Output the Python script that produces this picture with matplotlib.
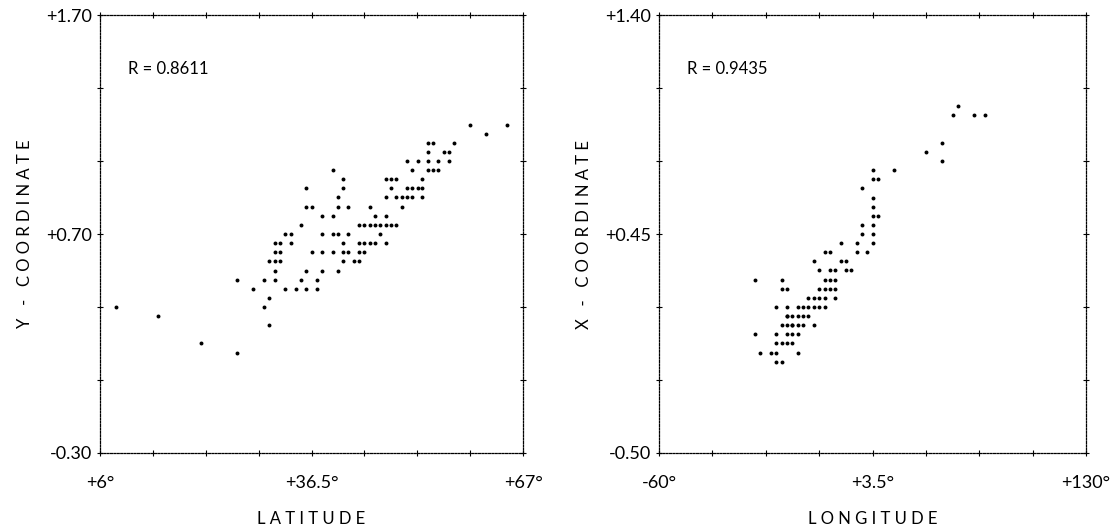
import numpy as np
import matplotlib
matplotlib.use("Agg")
import matplotlib.pyplot as plt

plt.rcParams['font.family'] = ['Lato', 'DejaVu Sans']

# left panel: latitude vs Y-coordinate
lat = [8.3, 14.4, 20.5, 25.8, 25.8, 28.1, 29.6, 29.6,
       30.4, 30.4, 30.4, 31.2, 31.2, 31.2, 31.2, 31.2, 31.9, 31.9, 31.9,
       32.7, 32.7, 33.5, 33.5, 34.2, 35.0, 35.0, 35.7, 35.7, 35.7, 35.7,
       36.5, 36.5, 37.3, 37.3, 38.0, 38.0, 38.0, 38.0, 39.6, 39.6, 39.6,
       39.6, 40.3, 40.3, 40.3, 40.3, 41.1, 41.1, 41.1, 41.1, 41.1, 41.8,
       41.8, 41.8, 42.6, 43.4, 43.4, 43.4, 43.4, 44.1, 44.1, 44.1, 44.9,
       44.9, 44.9, 45.7, 45.7, 45.7, 46.4, 46.4, 47.2, 47.2, 47.2, 47.2,
       47.2, 47.9, 47.9, 47.9, 48.7, 48.7, 48.7, 49.5, 49.5, 50.2, 50.2,
       50.2, 51.0, 51.0, 51.0, 51.8, 51.8, 52.5, 52.5, 52.5, 53.3, 53.3,
       53.3, 53.3, 54.0, 54.0, 54.8, 54.8, 55.6, 56.3, 56.3, 57.1, 59.4,
       61.7, 64.7]
ycoord = [0.367, 0.325, 0.200, 0.492, 0.158, 0.450, 0.367, 0.492,
          0.575, 0.283, 0.408, 0.617, 0.575, 0.533, 0.492, 0.658, 0.658, 0.617, 0.575,
          0.700, 0.450, 0.700, 0.658, 0.450, 0.742, 0.492, 0.908, 0.825, 0.533, 0.450,
          0.825, 0.617, 0.492, 0.450, 0.783, 0.700, 0.617, 0.533, 0.992, 0.783, 0.700,
          0.617, 0.867, 0.825, 0.700, 0.533, 0.950, 0.908, 0.658, 0.617, 0.575, 0.825,
          0.700, 0.617, 0.575, 0.742, 0.658, 0.575, 0.617, 0.742, 0.658, 0.617, 0.825,
          0.742, 0.658, 0.783, 0.742, 0.658, 0.742, 0.700, 0.950, 0.867, 0.783, 0.742,
          0.658, 0.950, 0.908, 0.742, 0.950, 0.867, 0.742, 0.867, 0.825, 1.033, 0.908,
          0.867, 0.992, 0.908, 0.867, 1.033, 0.908, 0.950, 0.908, 0.867, 1.117, 1.075,
          1.033, 0.992, 1.117, 0.992, 1.033, 0.992, 1.075, 1.075, 1.033, 1.117, 1.200,
          1.158, 1.200]

# right panel: longitude vs X-coordinate
lon = [-17.25, -17.25, -14.88, -10.13, -7.75, -7.75, -7.75, -7.75, -7.75,
       -5.38, -5.38, -5.38, -5.38, -5.38, -3.0, -3.0, -3.0, -3.0, -3.0, -3.0,
       -3.0, -0.63, -0.63, -0.63, -0.63, -0.63, 1.75, 1.75, 1.75, 1.75, 1.75,
       4.13, 4.13, 4.13, 6.5, 6.5, 6.5, 8.88, 8.88, 8.88, 8.88, 11.25, 11.25,
       11.25, 11.25, 13.63, 13.63, 13.63, 13.63, 13.63, 16.0, 16.0, 16.0, 16.0,
       18.38, 18.38, 18.38, 18.38, 20.75, 20.75, 23.13, 23.13, 25.5, 27.88,
       27.88, 30.25, 30.25, 30.25, 32.63, 35.0, 35.0, 35.0, 35.0, 35.0, 35.0,
       35.0, 35.0, 37.38, 37.38, 44.5, 58.75, 65.88, 65.88, 70.63, 73.0, 80.13,
       84.88]
xcoord = [0.252, 0.015, -0.065, -0.065, 0.015, -0.025, -0.065, -0.104, 0.133,
          0.054, -0.025, -0.104, 0.252, 0.213, 0.133, 0.094, 0.054, 0.015, -0.025, 0.213,
          0.094, 0.094, 0.054, 0.015, -0.025, 0.054, 0.094, 0.054, 0.015, -0.065, 0.133,
          0.094, 0.054, 0.133, 0.173, 0.133, 0.094, 0.331, 0.173, 0.133, 0.054, 0.292,
          0.213, 0.173, 0.133, 0.371, 0.252, 0.213, 0.173, 0.133, 0.371, 0.292, 0.252,
          0.213, 0.292, 0.252, 0.213, 0.173, 0.410, 0.331, 0.331, 0.292, 0.292, 0.410,
          0.371, 0.648, 0.490, 0.450, 0.371, 0.727, 0.688, 0.608, 0.569, 0.529, 0.490,
          0.450, 0.410, 0.688, 0.529, 0.727, 0.806, 0.846, 0.767, 0.965, 1.004, 0.965,
          0.965]

panels = [
    dict(x=lat, y=ycoord, xlim=(6, 67), ylim=(-0.30, 1.70),
         xticks=[6, 36.5, 67], xlabels=['+6°', '+36.5°', '+67°'],
         yticks=[-0.30, 0.70, 1.70], ylabels=['-0.30', '+0.70', '+1.70'],
         xlabel='L A T I T U D E', ylabel='Y   -   C O O R D I N A T E', r='R = 0.8611',
         rect=[0.0893, 0.1485, 0.3777, 0.8233]),
    dict(x=lon, y=xcoord, xlim=(-60, 130), ylim=(-0.50, 1.40),
         xticks=[-60, 35, 130], xlabels=['-60°', '+3.5°', '+130°'],
         yticks=[-0.50, 0.45, 1.40], ylabels=['-0.50', '+0.45', '+1.40'],
         xlabel='L O N G I T U D E', ylabel='X   -   C O O R D I N A T E', r='R = 0.9435',
         rect=[0.5884, 0.1485, 0.3813, 0.8233]),
]

fig = plt.figure(figsize=(11.2, 5.32), dpi=100)

for p in panels:
    ax = fig.add_axes(p['rect'])
    ax.scatter(p['x'], p['y'], s=8, c='black', linewidths=0)
    ax.set_xlim(*p['xlim'])
    ax.set_ylim(*p['ylim'])

    # dotted printer-style frame with small tick crosses
    for sp in ax.spines.values():
        sp.set_linestyle((0, (1.5, 1.2)))
        sp.set_linewidth(0.9)
    ax.set_xticks(np.linspace(*p['xlim'], 9), minor=True)
    ax.set_yticks(np.linspace(*p['ylim'], 7), minor=True)
    ax.set_xticks(p['xticks'])
    ax.set_xticklabels(p['xlabels'])
    ax.set_yticks(p['yticks'])
    ax.set_yticklabels(p['ylabels'])
    ax.tick_params(which='both', direction='inout', length=4, width=0.8,
                   top=True, right=True)
    ax.tick_params(axis='x', which='major', pad=14, labelsize=13)
    ax.tick_params(axis='y', which='major', pad=4, labelsize=13)

    ax.set_xlabel(p['xlabel'], fontsize=12, labelpad=14)
    ax.set_ylabel(p['ylabel'], fontsize=12, labelpad=9)
    ax.text(0.066, 0.877, p['r'], transform=ax.transAxes, fontsize=12,
            va='center', ha='left')

fig.savefig('out.png', dpi=100)
